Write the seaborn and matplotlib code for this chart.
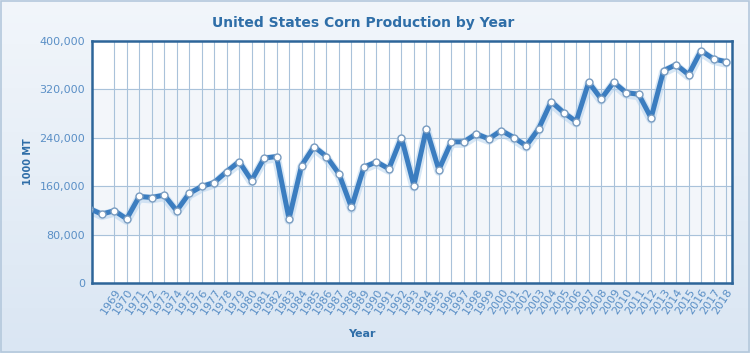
import numpy as np
import pandas as pd
import seaborn as sns
import matplotlib.pyplot as plt
from matplotlib.colors import LinearSegmentedColormap
from matplotlib.ticker import FuncFormatter, MultipleLocator

sns.set_theme(style="white")
plt.rcParams["font.family"] = ["DejaVu Sans"]

# data (1000 MT)
years = list(range(1967, 2019))
production = [
    123000, 113900, 119400, 106000, 143000, 141300, 145300, 119400, 148000, 159500,
    166000, 184000, 200700, 169400, 206400, 209000, 106000, 194000, 225500, 209000,
    180400, 124800, 191500, 200200, 188700, 240400, 161000, 255200, 187000, 233300,
    233300, 246500, 238200, 252000, 240400, 226700, 255200, 299800, 281600, 266800,
    331800, 304200, 331800, 314600, 312000, 272900, 351000, 360900, 344400, 384000,
    370300, 365800,
]
tick_years = list(range(1969, 2019))

df = pd.DataFrame({"Year": years, "Production": production})

title_col = "#2f6ea8"
tick_col = "#5a8fc6"
frame_col = "#2d6599"
grid_col = "#a9c2da"
line_col = "#3b7dc0"

fig = plt.figure(figsize=(7.5, 3.53), dpi=100)

# soft background gradient
bg = fig.add_axes([0, 0, 1, 1], zorder=-10)
grad = np.linspace(0, 1, 256).reshape(-1, 1)
bg.imshow(grad, aspect="auto", cmap=LinearSegmentedColormap.from_list("bg", ["#f2f6fb", "#dae6f3"]),
          extent=[0, 1, 0, 1], origin="upper")
bg.set_xlim(0, 1)
bg.set_ylim(0, 1)
bg.axis("off")
bg.add_patch(plt.Rectangle((0.001, 0.002), 0.997, 0.995, fill=False, ec="#b4c8dc", lw=1.2))

ax = fig.add_axes([0.1227, 0.1983, 0.8533, 0.6856])
ax.set_facecolor("white")

# alternating bands
for lo in (80000, 240000):
    ax.axhspan(lo, lo + 80000, color="#f3f6fa", zorder=0)

ax.set_xlim(1967.22, 2018.48)
ax.set_ylim(0, 400000)
ax.xaxis.set_major_locator(MultipleLocator(1))
ax.yaxis.set_major_locator(MultipleLocator(80000))
ax.grid(True, color=grid_col, lw=0.8, zorder=1)
ax.set_axisbelow(True)

# faint glow under the line, nudged down a little
ax.plot(df["Year"], df["Production"] - 2500, color="#a8cbeb", lw=6.5, alpha=0.45,
        solid_joinstyle="round", zorder=2)
sns.lineplot(data=df, x="Year", y="Production", ax=ax, color=line_col, lw=3.6,
             marker="o", markersize=5, markerfacecolor="white",
             markeredgecolor="#7a9cc0", markeredgewidth=1.0, zorder=3)

ax.set_xticks(tick_years)
ax.set_xticklabels([str(y) for y in tick_years], rotation=57, ha="right",
                   rotation_mode="anchor", fontsize=8, color=tick_col)
ax.yaxis.set_major_formatter(FuncFormatter(lambda v, p: f"{int(v):,}"))
ax.tick_params(axis="y", labelsize=8, labelcolor=tick_col, length=0, pad=5)
ax.tick_params(axis="x", length=0, pad=3)

for s in ax.spines.values():
    s.set_color(frame_col)
    s.set_linewidth(1.8)

ax.set_xlabel("Year", fontsize=8, fontweight="bold", color=title_col)
ax.set_ylabel("1000 MT", fontsize=7, fontweight="bold", color=title_col)
ax.xaxis.set_label_coords(0.422, -0.19)
ax.yaxis.set_label_coords(-0.093, 0.5)

fig.text(0.484, 0.935, "United States Corn Production by Year", ha="center", va="center",
         fontsize=10, fontweight="bold", color=title_col)

fig.savefig("out.png", dpi=100)
